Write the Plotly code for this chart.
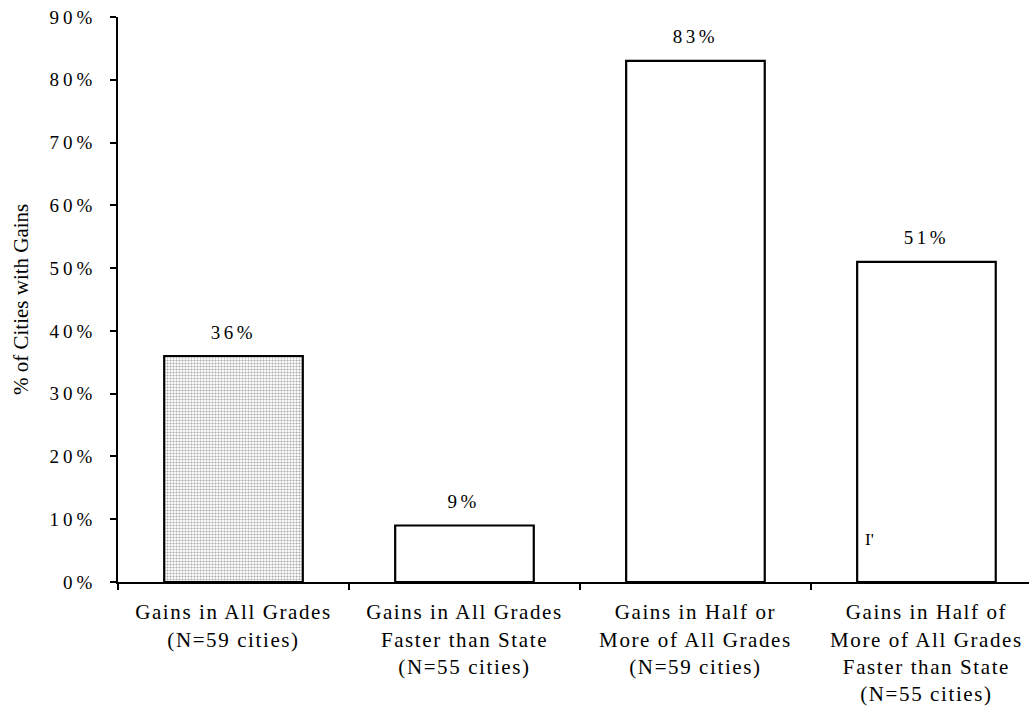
import plotly.graph_objects as go

categories = [
    "Gains in All Grades<br>(N=59 cities)",
    "Gains in All Grades<br>Faster than State<br>(N=55 cities)",
    "Gains in Half or<br>More of All Grades<br>(N=59 cities)",
    "Gains in Half of<br>More of All Grades<br>Faster than State<br>(N=55 cities)",
]
values = [36, 9, 83, 51]
value_labels = ["36%", "9%", "83%", "51%"]
y_ticks = [0, 10, 20, 30, 40, 50, 60, 70, 80, 90]
y_tick_labels = ["0%", "10%", "20%", "30%", "40%", "50%", "60%", "70%", "80%", "90%"]
y_title = "% of Cities with Gains"

FONT = "Liberation Serif, Times New Roman, serif"

fill_colors = ["#a9a9a9", "white", "white", "white"]
pattern_shapes = [".", "", "", ""]

fig = go.Figure(
    go.Bar(
        x=categories,
        y=values,
        width=0.6,
        cliponaxis=False,
        marker=dict(
            color=fill_colors,
            line=dict(color="black", width=2.2),
            pattern=dict(
                shape=pattern_shapes,
                fgcolor="#444444",
                bgcolor="#bababa",
                size=3,
                solidity=0.4,
                fillmode="replace",
            ),
        ),
    )
)

# value labels sitting above each bar
annotations = [
    dict(
        x=cat, y=val, xref="x", yref="y", text=lab, showarrow=False,
        yanchor="middle", yshift=24,
        font=dict(family=FONT, size=19, color="black"),
    )
    for cat, val, lab in zip(categories, values, value_labels)
]

# stray mark inside the last bar
annotations.append(
    dict(
        x=categories[3], y=6.7, xref="x", yref="y", text="I'", showarrow=False,
        xshift=-57, font=dict(family=FONT, size=17, color="black"),
    )
)

# y-axis title
annotations.append(
    dict(
        x=-0.107, y=0.5, xref="paper", yref="paper", text=y_title,
        showarrow=False, textangle=-90, xanchor="center", yanchor="middle",
        font=dict(family=FONT, size=21, color="black"),
    )
)

fig.update_layout(
    width=1029,
    height=719,
    margin=dict(l=118, r=0, t=17, b=137),
    paper_bgcolor="white",
    plot_bgcolor="white",
    showlegend=False,
    font=dict(family=FONT, size=19, color="black"),
    annotations=annotations,
)

fig.update_xaxes(
    type="category",
    range=[-0.5, 3.444],
    showline=True,
    linecolor="black",
    linewidth=2,
    ticks="outside",
    tickson="boundaries",
    ticklen=6,
    tickwidth=1.5,
    tickcolor="black",
    tickfont=dict(family=FONT, size=21, color="black"),
    ticklabelstandoff=10,
    showgrid=False,
    zeroline=False,
)

fig.update_yaxes(
    range=[0, 90],
    tickvals=y_ticks,
    ticktext=y_tick_labels,
    showline=True,
    linecolor="black",
    linewidth=1.5,
    ticks="outside",
    ticklen=6,
    tickwidth=1.5,
    tickcolor="black",
    tickfont=dict(family=FONT, size=19, color="black"),
    ticklabelstandoff=10,
    showgrid=False,
    zeroline=False,
)

# widen the letter spacing of the typeset labels
spacing_js = """
var gd = document.getElementById('{plot_id}');
gd.querySelectorAll('.xtick text').forEach(function (t) { t.style.letterSpacing = '1.6px'; });
gd.querySelectorAll('.ytick text').forEach(function (t) { t.style.letterSpacing = '4px'; });
gd.querySelectorAll('.annotation-text').forEach(function (t) {
    if (/%$/.test(t.textContent) && t.textContent.length < 5) { t.style.letterSpacing = '3.5px'; }
});
"""

fig.write_html("out.html", post_script=spacing_js)
